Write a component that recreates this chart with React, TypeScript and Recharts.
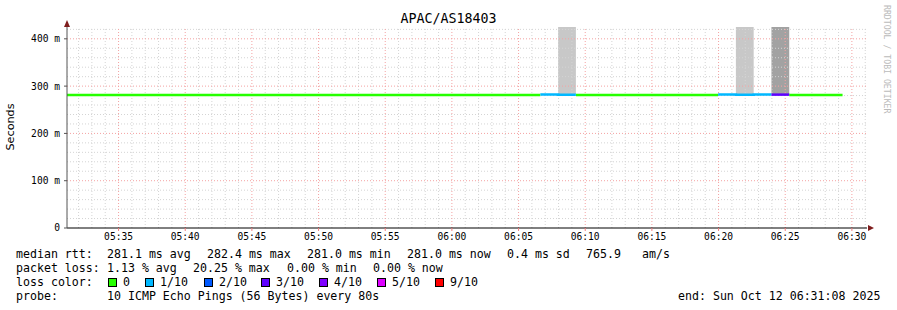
import React from 'react';
import { ComposedChart, Line, Area, XAxis, YAxis, ReferenceLine } from 'recharts';

// ---------- data ----------
const TITLE = 'APAC/AS18403';
const STEP_SECONDS = 80;
// time axis: seconds of day, 05:31:08 .. 06:31:08
const X_START = 19868;
const X_END = 23468;
const X_TICKS = [20100, 20400, 20700, 21000, 21300, 21600, 21900, 22200, 22500, 22800, 23100, 23400];
const Y_TICKS = [0, 100, 200, 300, 400];
const Y_MAX = 425;

const stepStarts = [
  19838, 19918, 19998, 20078, 20158, 20238, 20318, 20398, 20478, 20558,
  20638, 20718, 20798, 20878, 20958, 21038, 21118, 21198, 21278, 21358,
  21438, 21518, 21598, 21678, 21758, 21838, 21918, 21998, 22078, 22158,
  22238, 22318, 22398, 22478, 22558, 22638, 22718, 22798, 22878, 22958,
  23038, 23118, 23198, 23278,
];
// median rtt in ms
const medianRtt = [
  281.0, 281.0, 281.1, 281.0, 281.0, 281.0, 281.0, 281.1, 281.0, 281.0,
  281.0, 281.0, 281.0, 281.0, 281.1, 281.0, 281.0, 281.0, 281.0, 281.0,
  281.1, 281.0, 281.0, 281.0, 281.0, 281.0, 281.0, 282.4, 282.0, 281.0,
  281.0, 281.0, 281.0, 281.1, 281.0, 281.0, 281.0, 282.2, 282.0, 282.1,
  282.0, 281.0, 281.0, 281.0,
];
// lost pings out of 10
const lossCount = [
  0, 0, 0, 0, 0, 0, 0, 0, 0, 0,
  0, 0, 0, 0, 0, 0, 0, 0, 0, 0,
  0, 0, 0, 0, 0, 0, 0, 1, 1, 0,
  0, 0, 0, 0, 0, 0, 0, 1, 1, 1,
  3, 0, 0, 0,
];
// smoke (rtt spread) per step: null = none
const smokeLow = [
  null, null, null, null, null, null, null, null, null, null,
  null, null, null, null, null, null, null, null, null, null,
  null, null, null, null, null, null, null, null, 283, null,
  null, null, null, null, null, null, null, null, 283, null,
  283, null, null, null,
];
const smokeHigh = [
  null, null, null, null, null, null, null, null, null, null,
  null, null, null, null, null, null, null, null, null, null,
  null, null, null, null, null, null, null, null, 425, null,
  null, null, null, null, null, null, null, null, 425, null,
  425, null, null, null,
];
const smokeShade = [
  null, null, null, null, null, null, null, null, null, null,
  null, null, null, null, null, null, null, null, null, null,
  null, null, null, null, null, null, null, null, 'light', null,
  null, null, null, null, null, null, null, null, 'light', null,
  'dark', null, null, null,
];

const LOSS_LEVELS = [0, 1, 2, 3, 4, 5, 9];
const LOSS_LABELS = ['0', '1/10', '2/10', '3/10', '4/10', '5/10', '9/10'];
const LOSS_COLORS = ['#26ff00', '#00b8ff', '#0059ff', '#5e00ff', '#7e00ff', '#dd00ff', '#ff0000'];

const STATS_RTT = ['281.1 ms avg', '282.4 ms max', '281.0 ms min', '281.0 ms now', '0.4 ms sd', '765.9', 'am/s'];
const STATS_LOSS = ['1.13 % avg', '20.25 % max', '0.00 % min', '0.00 % now'];
const PROBE = '10 ICMP Echo Pings (56 Bytes) every 80s';
const END_TEXT = 'end: Sun Oct 12 06:31:08 2025';

// ---------- derived table ----------
function levelIndex(n: number) {
  let idx = 0;
  LOSS_LEVELS.forEach((l, k) => {
    if (n >= l) idx = k;
  });
  return idx;
}

const rows: any[] = [];
stepStarts.forEach((t, i) => {
  const rec: any = {};
  const lvl = levelIndex(lossCount[i]);
  LOSS_LEVELS.forEach((_, k) => {
    rec['loss' + k] = k === lvl ? medianRtt[i] : null;
  });
  const sm = smokeLow[i] != null && smokeHigh[i] != null ? [smokeLow[i], smokeHigh[i]] : null;
  rec.smokeLight = smokeShade[i] === 'light' ? sm : null;
  rec.smokeDark = smokeShade[i] === 'dark' ? sm : null;
  rows.push({ t, ...rec });
  rows.push({ t: t + STEP_SECONDS, ...rec });
});

const minorX: number[] = [];
for (let s = 19920; s <= X_END; s += 60) if (s % 300 !== 0) minorX.push(s);
const minorY: number[] = [];
for (let v = 20; v < Y_MAX; v += 20) if (v % 100 !== 0) minorY.push(v);
const majorY = Y_TICKS.filter((v) => v > 0);

function fmtTime(s: number) {
  const h = Math.floor(s / 3600);
  const m = Math.floor((s % 3600) / 60);
  return `${String(h).padStart(2, '0')}:${String(m).padStart(2, '0')}`;
}

const MONO = "'DejaVu Sans Mono', monospace";
const legendText: React.CSSProperties = {
  position: 'absolute',
  fontFamily: MONO,
  fontSize: 11.6,
  lineHeight: '14px',
  whiteSpace: 'pre',
  color: '#000',
};

function T({ x, cy, children }: { x: number; cy: number; children: React.ReactNode }) {
  return <div style={{ ...legendText, left: x, top: cy - 7 }}>{children}</div>;
}

const rttX = [107, 207, 307, 407, 507, 586, 642];
const lossX = [107, 193, 287, 373];
const boxX = [108, 145, 204, 261, 319, 377, 435];

export default function App() {
  return (
    <div style={{ position: 'absolute', left: 0, top: 0, width: 897, height: 310, background: '#fff', overflow: 'hidden' }}>
      <ComposedChart
        width={897}
        height={310}
        data={rows}
        margin={{ top: 27, right: 30, left: 0, bottom: 62 }}
      >
        <XAxis
          type="number"
          dataKey="t"
          domain={[X_START, X_END]}
          allowDataOverflow
          ticks={X_TICKS}
          tickFormatter={fmtTime}
          height={20}
          axisLine={{ stroke: '#000' }}
          tickLine={{ stroke: '#f08080' }}
          tickSize={3}
          tickMargin={2}
          tick={{ fontFamily: MONO, fontSize: 9.6, fill: '#000' }}
        />
        <YAxis
          type="number"
          domain={[0, Y_MAX]}
          allowDataOverflow
          ticks={Y_TICKS}
          tickFormatter={(v: number) => (v === 0 ? '0' : `${v} m`)}
          width={67}
          axisLine={{ stroke: '#555' }}
          tickLine={{ stroke: '#555' }}
          tickSize={3}
          tickMargin={4}
          tick={{ fontFamily: MONO, fontSize: 9.6, fill: '#000' }}
        />
        <Area
          dataKey="smokeLight"
          type="linear"
          fill="#c8c8c8"
          fillOpacity={1}
          stroke="none"
          isAnimationActive={false}
          dot={false}
          activeDot={false}
        />
        <Area
          dataKey="smokeDark"
          type="linear"
          fill="#a2a2a2"
          fillOpacity={1}
          stroke="none"
          isAnimationActive={false}
          dot={false}
          activeDot={false}
        />
        {minorX.map((x) => (
          <ReferenceLine key={'mx' + x} x={x} stroke="#d4d4d4" strokeDasharray="1 2" />
        ))}
        {minorY.map((y) => (
          <ReferenceLine key={'my' + y} y={y} stroke="#d4d4d4" strokeDasharray="1 2" />
        ))}
        {X_TICKS.map((x) => (
          <ReferenceLine key={'Mx' + x} x={x} stroke="#f4a2a2" strokeDasharray="1 2" />
        ))}
        {majorY.map((y) => (
          <ReferenceLine key={'My' + y} y={y} stroke="#f4a2a2" strokeDasharray="1 2" />
        ))}
        {LOSS_LEVELS.map((_, k) => (
          <Line
            key={'loss' + k}
            dataKey={'loss' + k}
            type="linear"
            stroke={LOSS_COLORS[k]}
            strokeWidth={2.5}
            dot={false}
            activeDot={false}
            connectNulls={false}
            isAnimationActive={false}
          />
        ))}
      </ComposedChart>

      {/* axis arrows */}
      <svg width={897} height={310} style={{ position: 'absolute', left: 0, top: 0, pointerEvents: 'none' }}>
        <polygon points="64,27 70,27 67,20" fill="#7f1d1d" />
        <polygon points="868,225 868,231 874,228" fill="#7f1d1d" />
      </svg>

      {/* title */}
      <div style={{ position: 'absolute', left: 0, width: 897, top: 11, textAlign: 'center', fontFamily: MONO, fontSize: 13.3, lineHeight: '16px', color: '#000' }}>
        {TITLE}
      </div>

      {/* y label */}
      <div style={{ position: 'absolute', left: 11, top: 127, transform: 'translate(-50%, -50%) rotate(-90deg)', fontFamily: "'DejaVu Sans', sans-serif", fontSize: 11.2, lineHeight: '14px', whiteSpace: 'nowrap', color: '#000' }}>
        Seconds
      </div>

      {/* watermark */}
      <div style={{ position: 'absolute', left: 882, top: 5, writingMode: 'vertical-rl', fontFamily: MONO, fontSize: 8.2, lineHeight: '10px', color: '#bbbbbb', whiteSpace: 'nowrap' }}>
        RRDTOOL / TOBI OETIKER
      </div>

      {/* legend */}
      <T x={16} cy={254}>median rtt:</T>
      {STATS_RTT.map((s, i) => (
        <T key={'r' + i} x={rttX[i]} cy={254}>{s}</T>
      ))}
      <T x={16} cy={268}>packet loss:</T>
      {STATS_LOSS.map((s, i) => (
        <T key={'l' + i} x={lossX[i]} cy={268}>{s}</T>
      ))}
      <T x={16} cy={282}>loss color:</T>
      {LOSS_LABELS.map((lab, k) => (
        <React.Fragment key={'b' + k}>
          <div style={{ position: 'absolute', left: boxX[k], top: 278, width: 9, height: 9, boxSizing: 'border-box', border: '1px solid #000', background: LOSS_COLORS[k] }} />
          <T x={boxX[k] + 15} cy={282}>{lab}</T>
        </React.Fragment>
      ))}
      <T x={16} cy={296}>probe:</T>
      <T x={107} cy={296}>{PROBE}</T>
      <T x={678} cy={296}>{END_TEXT}</T>
    </div>
  );
}
